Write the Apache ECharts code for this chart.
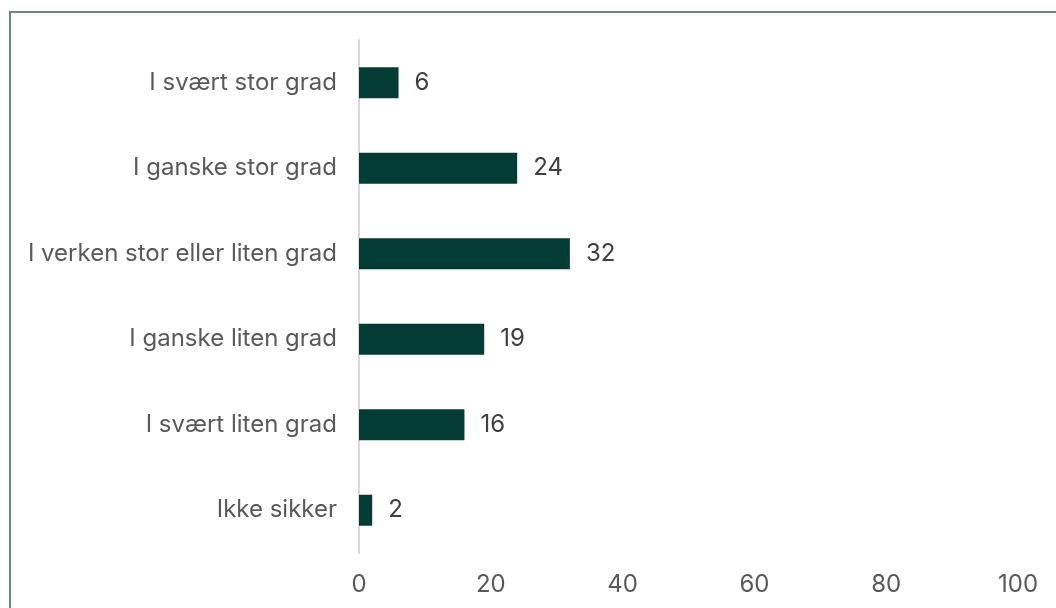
<!DOCTYPE html>
<html><head><meta charset="utf-8">
<script src="https://cdn.jsdelivr.net/npm/echarts@6/dist/echarts.min.js"></script>
<style>
html,body{margin:0;padding:0;background:#fff;overflow:hidden;}
#frame{position:absolute;left:9px;top:11px;width:1200px;height:800px;border-left:2px solid #6f8784;border-top:2px solid #6f8784;}
#c{position:absolute;left:0;top:0;width:1056px;height:608px;}
</style></head>
<body>
<div id="frame"></div>
<div id="c"></div>
<script>
const categories = ["I svært stor grad","I ganske stor grad","I verken stor eller liten grad","I ganske liten grad","I svært liten grad","Ikke sikker"];
const values = [6,24,32,19,16,2];
const xTicks = [0,20,40,60,80,100];

const chart = echarts.init(document.getElementById('c'), null, {renderer:'canvas'});
chart.setOption({
  animation:false,
  grid:{left:359,right:38,top:40,height:513,containLabel:false},
  xAxis:{type:'value',min:xTicks[0],max:xTicks[xTicks.length-1],interval:20,
    axisLine:{show:false},axisTick:{show:false},splitLine:{show:false},
    axisLabel:{color:'#595959',fontSize:24,fontFamily:'Inter',margin:20}},
  yAxis:{type:'category',data:categories,inverse:true,
    axisLine:{show:true,lineStyle:{color:'#d9d9d9',width:2}},axisTick:{show:false},
    axisLabel:{color:'#595959',fontSize:24,fontFamily:'Inter',margin:22,padding:[4,0,0,0]}},
  series:[{type:'bar',data:values,barWidth:31,itemStyle:{color:'#023c35'},
    label:{show:true,position:'right',distance:16,color:'#404040',fontSize:24,fontFamily:'Inter',padding:[4,0,0,0]}}]
});
</script>
</body></html>
